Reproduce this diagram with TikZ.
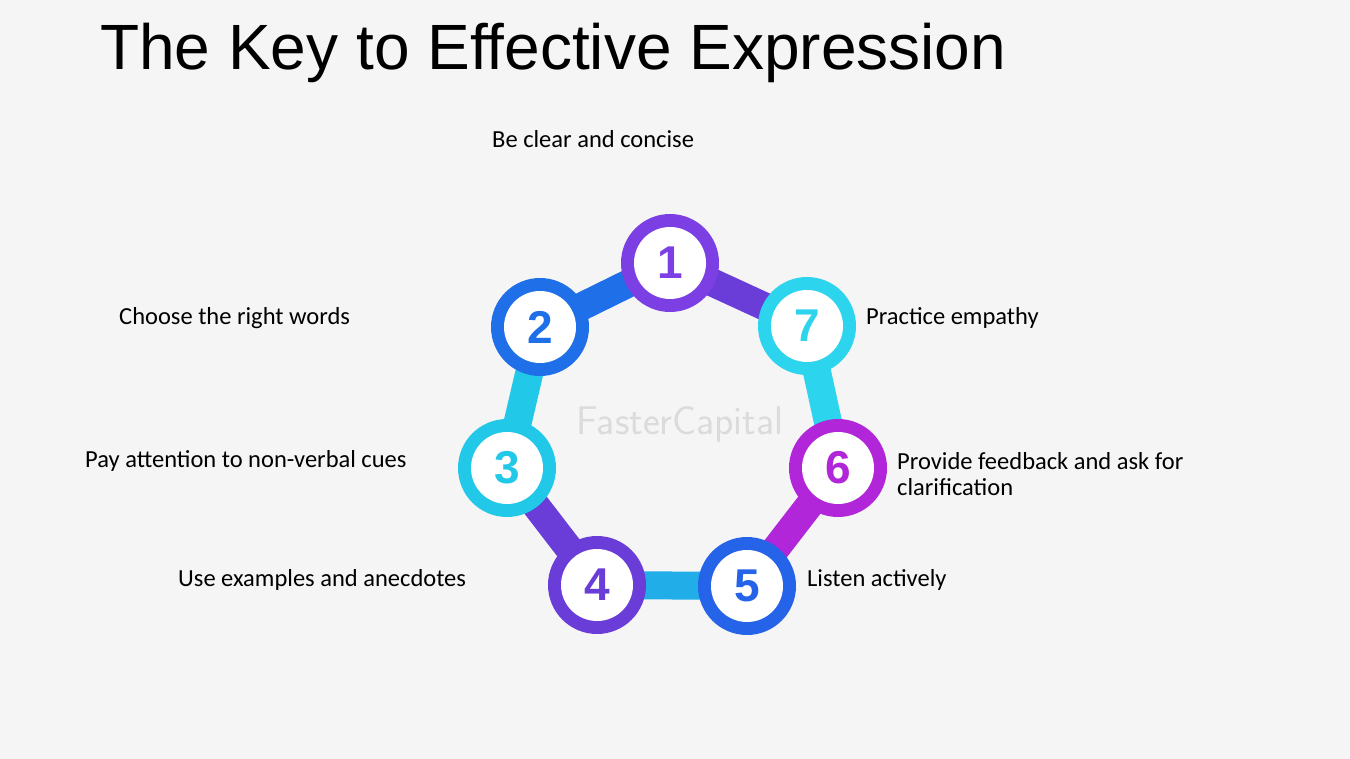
\documentclass[tikz,border=0pt]{standalone}
\usepackage{fontspec}
\setmainfont{Carlito}
\newfontfamily\titlefont{Liberation Sans}
\newfontfamily\numfont{Liberation Sans}
\definecolor{bg}{HTML}{F5F5F5}
\definecolor{cA}{HTML}{7B3FE4}
\definecolor{cB}{HTML}{1E6FE8}
\definecolor{cC}{HTML}{22C8E8}
\definecolor{cD}{HTML}{6A3CD8}
\definecolor{cE}{HTML}{2563E8}
\definecolor{cF}{HTML}{B026D8}
\definecolor{cG}{HTML}{2CD4EE}
\tikzset{
 ring/.style={circle,minimum size=98pt,inner sep=0pt},
 hole/.style={circle,fill=white,minimum size=72pt,inner sep=0pt,font=\numfont\bfseries\fontsize{46}{46}\selectfont},
 bar/.style={line width=28pt},
 lbl/.style={anchor=west,inner sep=0pt,font=\fontsize{24.5}{26}\selectfont,align=left,text=black}
}
\begin{document}
\begin{tikzpicture}[x=1pt,y=-1pt]
\fill[bg] (0,0) rectangle (1350,759);
\useasboundingbox (0,0) rectangle (1350,759);
\node[anchor=base west,inner sep=0pt,font=\titlefont\fontsize{64}{64}\selectfont] (title) at (100,70) {The Key to Effective Expression};
\coordinate (p1) at (670,263);
\coordinate (p2) at (540,327);
\coordinate (p3) at (507,468);
\coordinate (p4) at (597,585);
\coordinate (p5) at (747,586);
\coordinate (p6) at (838,468);
\coordinate (p7) at (807,326);
\node[font=\sffamily\fontsize{40}{40}\selectfont,text=black!14] (wm) at (680,424) {FasterCapital};
\draw[bar,cB] (p1) -- (p2);
\draw[bar,cC] (p2) -- (p3);
\draw[bar,cD] (p3) -- (p4);
\draw[bar,cC!70!cB] (p4) -- (p5);
\draw[bar,cF] (p5) -- (p6);
\draw[bar,cG] (p6) -- (p7);
\draw[bar,cD] (p7) -- (p1);
\foreach \i/\c in {1/cA,2/cB,3/cC,4/cD,5/cE,6/cF,7/cG}{
 \node[ring,fill=\c] (r\i) at (p\i) {};
 \node[hole,text=\c] (n\i) at (p\i) {\i};
}
\node[lbl] (t1) at (492,139) {Be clear and concise};
\node[lbl] (t2) at (119,318) {Choose the right words};
\node[lbl] (t3) at (85,461) {Pay attention to non-verbal cues};
\node[lbl] (t4) at (178,580) {Use examples and anecdotes};
\node[lbl] (t7) at (866,318) {Practice empathy};
\node[lbl] (t6) at (897,474) {Provide feedback and ask for\\clarification};
\node[lbl] (t5) at (807,580) {Listen actively};
\end{tikzpicture}
\end{document}
